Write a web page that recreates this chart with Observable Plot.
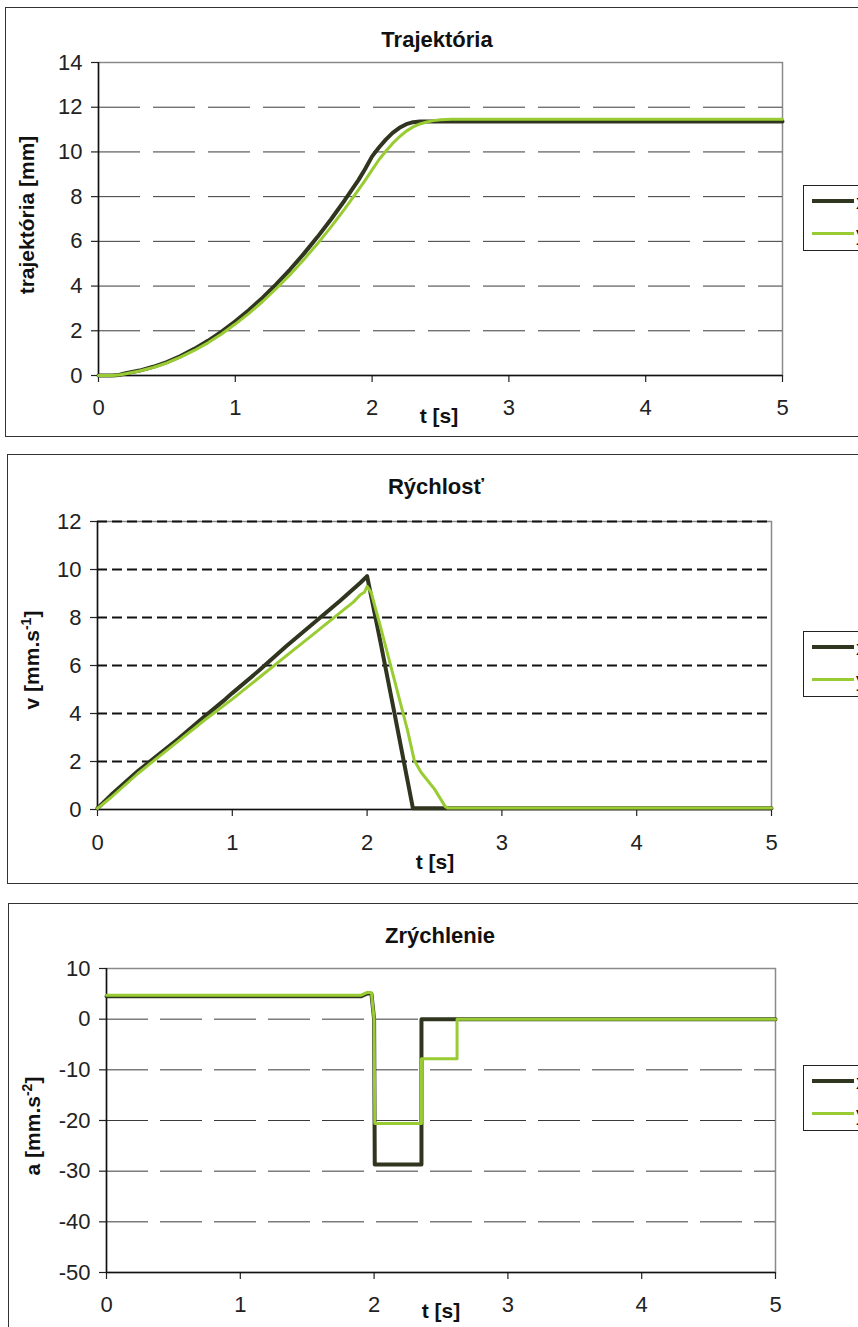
<!DOCTYPE html>
<html><head><meta charset="utf-8">
<script src="https://cdn.jsdelivr.net/npm/d3@7"></script>
<script src="https://cdn.jsdelivr.net/npm/@observablehq/plot@0.6"></script>
<style>
body{margin:0;background:#fff;font-family:"Liberation Sans",Arial,sans-serif;}
#root{position:relative;width:858px;height:1327px;overflow:hidden;background:#fff;}
.box{position:absolute;border:1.5px solid #333;box-sizing:border-box;}
.title{position:absolute;font-weight:bold;font-size:22px;transform:translate(-50%,-50%);white-space:nowrap;color:#111;line-height:1;}
.xlab{position:absolute;font-weight:bold;font-size:21px;transform:translate(-50%,-50%);white-space:nowrap;color:#111;line-height:1;}
.ylab{position:absolute;font-weight:bold;font-size:21px;transform:translate(-50%,-50%) rotate(-90deg);white-space:nowrap;color:#111;line-height:1;}
.ylab sup{font-size:14px;vertical-align:8px;line-height:0;}
.leg{position:absolute;border:1.5px solid #222;background:#fff;box-sizing:border-box;width:120px;}
.legline{position:absolute;left:8px;width:42px;}
.legtext{position:absolute;left:52px;font-size:21px;color:#111;transform:translateY(-50%);line-height:1;}
svg.plot{position:absolute;left:0;}
</style>
</head><body>
<div id="root"></div>
<script>
// ---------- data ----------
const xTicks = [0, 1, 2, 3, 4, 5];

// Trajektória
const trajTicks = [0, 2, 4, 6, 8, 10, 12, 14];
const trajTimeX = [0,0.1,0.15,0.2,0.3,0.4,0.5,0.6,0.7,0.8,0.9,1.0,1.1,1.2,1.3,1.4,1.5,1.6,1.7,1.8,1.9,1.95,2.0,2.05,2.1,2.15,2.2,2.25,2.3,2.35,5];
const trajX = [0,0,0.02,0.1,0.22,0.39,0.6,0.87,1.19,1.55,1.96,2.42,2.93,3.48,4.09,4.74,5.44,6.19,6.99,7.84,8.74,9.25,9.8,10.2,10.55,10.85,11.08,11.24,11.33,11.36,11.36];
const trajTimeY = [0,0.1,0.15,0.2,0.3,0.4,0.5,0.6,0.7,0.8,0.9,1.0,1.1,1.2,1.3,1.4,1.5,1.6,1.7,1.8,1.9,1.95,2.0,2.05,2.1,2.15,2.2,2.25,2.3,2.35,2.4,2.45,2.5,2.58,5];
const trajY = [0,0,0.02,0.08,0.2,0.36,0.56,0.82,1.12,1.46,1.86,2.3,2.78,3.31,3.89,4.51,5.18,5.89,6.65,7.45,8.3,8.74,9.2,9.65,10.03,10.38,10.68,10.93,11.12,11.25,11.34,11.4,11.44,11.46,11.46];

// Rýchlosť
const velTicks = [0, 2, 4, 6, 8, 10, 12];
const velTimeX = [0,0.1,0.2,0.3,0.4,0.5,0.6,0.8,0.95,1.0,1.2,1.4,1.6,1.8,1.95,2.0,2.1,2.2,2.3,2.34,5];
const velX = [0.05,0.6,1.1,1.6,2.05,2.5,2.95,3.9,4.6,4.85,5.8,6.8,7.75,8.7,9.45,9.72,6.95,4.1,1.2,0.05,0.05];
const velTimeY = [0,0.1,0.2,0.3,0.4,0.5,0.6,0.8,1.0,1.2,1.4,1.6,1.8,1.9,1.95,1.98,2.0,2.03,2.1,2.2,2.3,2.35,2.4,2.5,2.58,2.6,5];
const velY = [0.05,0.5,1.0,1.5,1.95,2.4,2.85,3.75,4.6,5.5,6.4,7.3,8.2,8.65,8.95,9.05,9.3,9.05,7.6,5.45,3.3,2.05,1.55,0.85,0.12,0.06,0.06];

// Zrýchlenie
const accTicks = [-50, -40, -30, -20, -10, 0, 10];
const accTimeX = [0,1.9,1.95,1.98,2.0,2.005,2.354,2.354,5];
const accX = [4.5,4.5,5.1,5.0,0,-28.7,-28.7,0,0];
const accTimeY = [0,1.9,1.95,1.98,2.0,2.005,2.354,2.354,2.62,2.62,5];
const accY = [4.7,4.7,5.3,5.2,0,-20.6,-20.6,-7.8,-7.8,0,0];

const seriesNames = ["x", "y"];
const colX = "#30351f", colY = "#99cc33";

// ---------- layout ----------
const root = document.getElementById("root");
function el(cls, css, html) {
  const d = document.createElement("div");
  d.className = cls;
  Object.assign(d.style, css);
  if (html != null) d.innerHTML = html;
  root.appendChild(d);
  return d;
}
function zip(t, v) { return t.map((tt, i) => ({t: tt, v: v[i]})); }
const fmt = d => String(d);

const panels = [
  {box:{left:5,top:7,height:430}, top:0, height:440, ml:98, mr:76, mt:62, mb:65,
   ydom:[0,14], yticks:trajTicks, grid:trajTicks.filter(d => d > 0 && d < 14), gridStyle:{stroke:"#3a3a3a", strokeWidth:1, strokeDasharray:"42,13"},
   sx:[trajTimeX, trajX], sy:[trajTimeY, trajY], ybottom:0, tp:17,
   title:"Trajektória", tpos:[437,40], ylab:"trajektória [mm]", ypos:[26,215], xpos:[439,415], leg:185},
  {box:{left:7,top:454,height:430}, top:450, height:440, ml:97, mr:87, mt:71, mb:81,
   ydom:[0,12], yticks:velTicks, grid:velTicks.filter(d => d > 0), gridStyle:{stroke:"#111", strokeWidth:2, strokeDasharray:"10,5"},
   sx:[velTimeX, velX], sy:[velTimeY, velY], ybottom:0, tp:18,
   title:"Rýchlosť", tpos:[436,487], ylab:"v [mm.s<sup>-1</sup>]", ypos:[31,660], xpos:[435,861], leg:631},
  {box:{left:8,top:903,height:500}, top:900, height:427, ml:106, mr:83, mt:68, mb:55,
   ydom:[-50,10], yticks:accTicks, grid:accTicks.filter(d => d > -50 && d < 10), gridStyle:{stroke:"#3a3a3a", strokeWidth:1, strokeDasharray:"42,12"},
   sx:[accTimeX, accX], sy:[accTimeY, accY], ybottom:-50, tp:17,
   title:"Zrýchlenie", tpos:[440,936], ylab:"a [mm.s<sup>-2</sup>]", ypos:[32,1126], xpos:[441,1310], leg:1065}
];

for (const p of panels) {
  el("box", {left:p.box.left+"px", top:p.box.top+"px", height:p.box.height+"px", width:"900px"});
}

for (const p of panels) {
  const svg = Plot.plot({
    width: 858, height: p.height,
    marginLeft: p.ml, marginRight: p.mr, marginTop: p.mt, marginBottom: p.mb,
    x: {domain: [0, 5]},
    y: {domain: p.ydom},
    style: {fontFamily: '"Liberation Sans", Arial, sans-serif', fontSize: "22px", color: "#222", background: "transparent", overflow: "visible"},
    marks: [
      Plot.frame({stroke: "#8a8a8a", strokeWidth: 1.5}),
      Plot.ruleY(p.grid, p.gridStyle),
      Plot.axisY(p.yticks, {tickSize: 7, tickPadding: 9, label: null, fontSize: 22, strokeWidth: 1.2, tickFormat: fmt}),
      Plot.axisX(xTicks, {tickSize: 7, tickPadding: p.tp, label: null, fontSize: 22, strokeWidth: 1.2, tickFormat: fmt}),
      Plot.ruleX([0], {stroke: "#111", strokeWidth: 1.5}),
      Plot.ruleY([p.ybottom], {stroke: "#111", strokeWidth: 1.5}),
      Plot.line(zip(p.sx[0], p.sx[1]), {x: "t", y: "v", stroke: colX, strokeWidth: 4, strokeLinejoin: "round"}),
      Plot.line(zip(p.sy[0], p.sy[1]), {x: "t", y: "v", stroke: colY, strokeWidth: 3, strokeLinejoin: "round"})
    ]
  });
  svg.classList.add("plot");
  svg.style.top = p.top + "px";
  root.appendChild(svg);

  el("title", {left:p.tpos[0]+"px", top:p.tpos[1]+"px"}, p.title);
  el("ylab", {left:p.ypos[0]+"px", top:p.ypos[1]+"px"}, p.ylab);
  el("xlab", {left:p.xpos[0]+"px", top:p.xpos[1]+"px"}, "t [s]");

  const leg = el("leg", {left:"803px", top:p.leg+"px", height:"66px"});
  [[colX, 4, 15], [colY, 3, 47]].forEach(([c, w, y], i) => {
    const l = document.createElement("div");
    l.className = "legline";
    Object.assign(l.style, {top:(y - w/2)+"px", height:w+"px", background:c});
    leg.appendChild(l);
    const tx = document.createElement("div");
    tx.className = "legtext";
    tx.style.top = y + "px";
    tx.textContent = seriesNames[i];
    leg.appendChild(tx);
  });
}
</script>
</body></html>
